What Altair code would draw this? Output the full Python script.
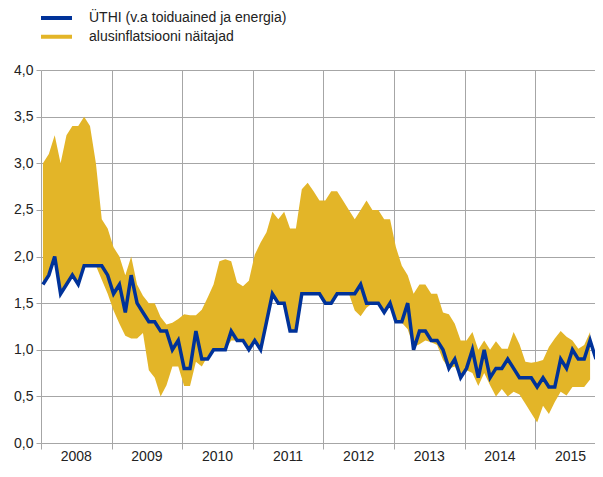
import altair as alt
import pandas as pd

# ---------------- data ----------------
years = [2008, 2009, 2010, 2011, 2012, 2013, 2014, 2015]
y_ticks = [0.0, 0.5, 1.0, 1.5, 2.0, 2.5, 3.0, 3.5, 4.0]

LBL_UTHI = "ÜTHI (v.a toiduained ja energia)"
LBL_CORE = "alusinflatsiooni näitajad"

# monthly, Jan 2008 .. Nov 2015
uthi = [
    1.7, 1.8, 2.0, 1.6, 1.7, 1.8, 1.7, 1.9, 1.9, 1.9, 1.9, 1.8,
    1.6, 1.7, 1.4, 1.8, 1.5, 1.4, 1.3, 1.3, 1.2, 1.2, 1.0, 1.1,
    0.8, 0.8, 1.2, 0.9, 0.9, 1.0, 1.0, 1.0, 1.2, 1.1, 1.1, 1.0,
    1.1, 1.0, 1.3, 1.6, 1.5, 1.5, 1.2, 1.2, 1.6, 1.6, 1.6, 1.6,
    1.5, 1.5, 1.6, 1.6, 1.6, 1.6, 1.7, 1.5, 1.5, 1.5, 1.4, 1.5,
    1.3, 1.3, 1.5, 1.0, 1.2, 1.2, 1.1, 1.1, 1.0, 0.8, 0.9, 0.7,
    0.8, 1.0, 0.7, 1.0, 0.7, 0.8, 0.8, 0.9, 0.8, 0.7, 0.7, 0.7,
    0.6, 0.7, 0.6, 0.6, 0.9, 0.8, 1.0, 0.9, 0.9, 1.1, 0.9,
]

# core inflation measures range, Jan 2008 .. Oct 2015
band_high = [
    3.0, 3.1, 3.3, 3.0, 3.3, 3.4, 3.4, 3.5, 3.4, 3.0, 2.4, 2.3,
    2.1, 2.0, 1.8, 2.0, 1.7, 1.58, 1.5, 1.5, 1.35, 1.27, 1.29, 1.33,
    1.38, 1.37, 1.37, 1.43, 1.56, 1.7, 1.95, 1.97, 1.95, 1.72, 1.68, 1.74,
    2.02, 2.15, 2.26, 2.48, 2.4, 2.48, 2.3, 2.3, 2.72, 2.79, 2.7, 2.6,
    2.6, 2.7, 2.7, 2.6, 2.5, 2.4, 2.5, 2.6, 2.5, 2.5, 2.4, 2.4,
    2.1, 1.9, 1.8, 1.6, 1.7, 1.7, 1.6, 1.6, 1.4, 1.38, 1.28, 1.1,
    1.1, 1.19, 1.0, 1.1, 1.0, 1.09, 1.01, 1.01, 1.19, 1.06, 0.87, 0.86,
    0.87, 0.89, 1.03, 1.12, 1.2, 1.14, 1.1, 1.01, 1.05, 1.19,
]
band_low = [
    1.7, 1.8, 2.0, 1.6, 1.7, 1.8, 1.7, 1.9, 1.9, 1.9, 1.75, 1.6,
    1.42, 1.28, 1.15, 1.12, 1.12, 1.18, 0.78, 0.7, 0.5, 0.62, 0.82, 0.82,
    0.61, 0.61, 0.87, 0.82, 0.93, 1.0, 1.0, 1.0, 1.1, 1.1, 1.1, 1.0,
    1.1, 1.0, 1.3, 1.6, 1.5, 1.5, 1.2, 1.2, 1.6, 1.6, 1.6, 1.6,
    1.5, 1.5, 1.6, 1.6, 1.6, 1.42, 1.36, 1.45, 1.5, 1.5, 1.4, 1.5,
    1.3, 1.29, 1.22, 1.03, 1.06, 1.1, 1.08, 1.05, 0.89, 0.8, 0.82, 0.7,
    0.78, 0.75, 0.61, 0.75, 0.62, 0.5, 0.58, 0.5, 0.55, 0.52, 0.42, 0.32,
    0.22, 0.4, 0.31, 0.44, 0.55, 0.51, 0.6, 0.6, 0.6, 0.68,
]

# ---------------- styling ----------------
BLUE = "#003299"
YELLOW = "#E3B528"
GRID = "#A6A6A6"
TEXT = "#222222"
FONT = "Liberation Sans"
MONTH_POS = 0.33  # position of a monthly point inside its month slot
YEAR_PX = 70.6    # pixels per year in the reference


def month_x(i):
    return years[0] + (i + MONTH_POS) / 12.0


line_df = pd.DataFrame({
    "x": [month_x(i) for i in range(len(uthi))],
    "value": uthi,
    "series": LBL_UTHI,
})
band_df = pd.DataFrame({
    "x": [month_x(i) for i in range(len(band_high))],
    "high": band_high,
    "low": band_low,
})
year_df = pd.DataFrame({
    "x": [y + 0.5 for y in years],
    "label": [str(y) for y in years],
})

W, H = 554, 373
PAD_TOP = 62
PAD_BOTTOM = 457 - PAD_TOP - H

x_scale = alt.Scale(domain=[years[0], years[0] + W / YEAR_PX], nice=False, zero=False)
y_scale = alt.Scale(domain=[0, 4], nice=False)

x_axis = alt.Axis(values=years, labels=False, grid=True, gridColor=GRID, gridWidth=1,
                  ticks=True, tickSize=6, tickColor=GRID, domain=False, title=None)
y_axis = alt.Axis(values=y_ticks,
                  labelExpr="replace(format(datum.value, '.1f'), '.', ',')",
                  grid=True, gridColor=GRID, gridWidth=1, ticks=True, tickSize=5,
                  tickColor=GRID, domain=False, title=None, labelFontSize=14,
                  labelFont=FONT, labelColor=TEXT, labelPadding=3)

band = alt.Chart(band_df).mark_area(color=YELLOW, opacity=1).encode(
    x=alt.X("x:Q", scale=x_scale, axis=x_axis),
    y=alt.Y("high:Q", scale=y_scale, axis=y_axis),
    y2="low:Q",
)

line = alt.Chart(line_df).mark_line(strokeWidth=3.5).encode(
    x=alt.X("x:Q", scale=x_scale),
    y=alt.Y("value:Q", scale=y_scale),
    color=alt.Color(
        "series:N",
        scale=alt.Scale(domain=[LBL_UTHI, LBL_CORE], range=[BLUE, YELLOW]),
        legend=alt.Legend(
            title=None, orient="none", legendX=-2, legendY=10 - (8 + PAD_TOP),
            direction="vertical", symbolType="stroke", symbolSize=961,
            symbolStrokeWidth=4, labelFontSize=14, labelFont=FONT,
            labelColor=TEXT, labelOffset=15, labelLimit=500, clipHeight=16,
            rowPadding=2.7, padding=0,
        ),
    ),
)

year_text = alt.Chart(year_df).mark_text(
    fontSize=14, font=FONT, color=TEXT, align="center", baseline="middle"
).encode(
    x=alt.X("x:Q", scale=x_scale),
    y=alt.value(H + 14),
    text="label:N",
)

chart = alt.layer(band, line, year_text).properties(
    width=W,
    height=H,
    autosize=alt.AutoSizeParams(type="none"),
    padding={"left": 33, "top": PAD_TOP, "right": 0, "bottom": PAD_BOTTOM},
).configure_view(stroke=None)

chart.save("out.html", embed_options={"renderer": "svg", "actions": False})
